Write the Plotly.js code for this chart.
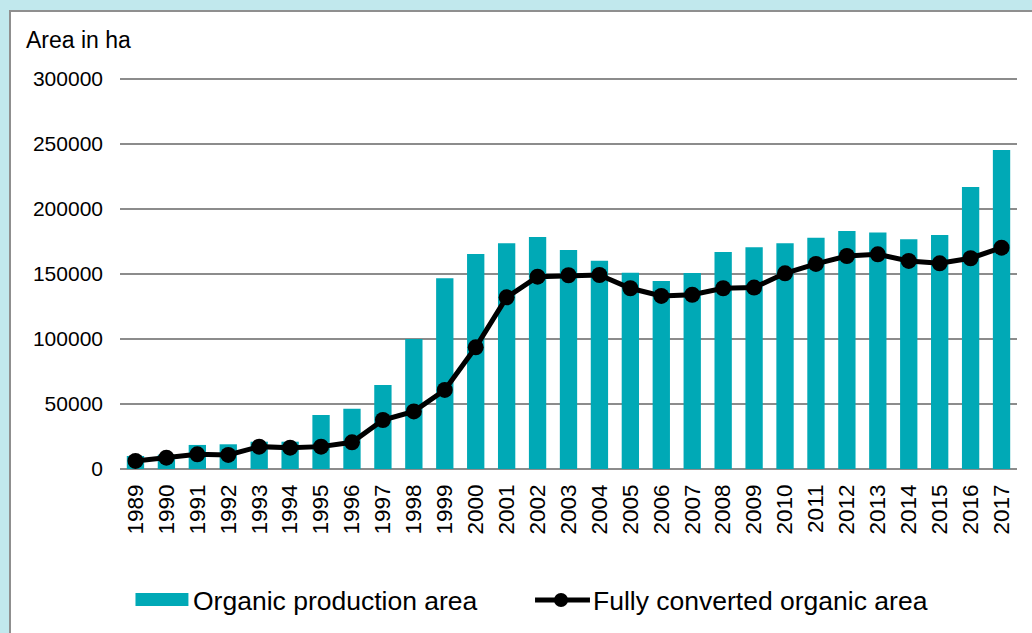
<!DOCTYPE html>
<html>
<head>
<meta charset="utf-8">
<script src="https://cdn.plot.ly/plotly-3.0.1.min.js"></script>
<style>
  html, body { margin: 0; padding: 0; background: #c1e8ed; width: 1032px; height: 633px; overflow: hidden; }
  #frame { position: absolute; left: 9px; top: 10px; width: 1030px; height: 630px;
           border-left: 2px solid #8f8f8f; border-top: 2px solid #8f8f8f; background: #ffffff; }
  #chart { position: absolute; left: 0; top: 0; }
</style>
</head>
<body>
<div id="frame"><div id="chart"></div></div>
<script>
const years = ['1989','1990','1991','1992','1993','1994','1995','1996','1997','1998',
               '1999','2000','2001','2002','2003','2004','2005','2006','2007','2008',
               '2009','2010','2011','2012','2013','2014','2015','2016','2017'];
const organicProductionArea = [10000, 11000, 18500, 19000, 21000, 21000, 41500, 46400, 64600, 100000,
                               146700, 165400, 173600, 178500, 168500, 160200, 151000, 144600, 150800, 166900,
                               170500, 173600, 177900, 183100, 181800, 176700, 180000, 216900, 245400];
const fullyConvertedArea = [6200, 8700, 11300, 10800, 17200, 16400, 17200, 20500, 37700, 44300,
                            60800, 93600, 132000, 147900, 149000, 149200, 139000, 133100, 134000, 139000,
                            139500, 150500, 157700, 163800, 165100, 160000, 158200, 162100, 170200];
const seriesNames = ['Organic production area', 'Fully converted organic area'];
const yTitle = 'Area in ha';
const yTicks = [0, 50000, 100000, 150000, 200000, 250000, 300000];
const yMax = 300000;

const W = 1021, H = 621;
const RANGE_TOP = yMax * 1.01;
const PLOT_BOTTOM = 457, GRID_TOP = 67;
const PHc = (PLOT_BOTTOM - GRID_TOP) * RANGE_TOP / yMax;
const M = { l: 108.5, r: 14.5, t: PLOT_BOTTOM - PHc, b: H - PLOT_BOTTOM };
const PW = W - M.l - M.r, PH = H - M.t - M.b;
const px = x => (x - M.l) / PW;          // inner pixel x -> paper x
const py = y => (H - M.b - y) / PH;      // inner pixel y -> paper y

const FONT = 'Liberation Sans, Arial, sans-serif';
const TEAL = '#00a9b6';
const GRID = '#8c8c8c';

const traces = [
  { type: 'bar', x: years, y: organicProductionArea, name: seriesNames[0],
    marker: { color: TEAL }, showlegend: false },
  { type: 'scatter', mode: 'lines+markers', x: years, y: fullyConvertedArea, name: seriesNames[1],
    line: { color: '#000000', width: 5 }, marker: { color: '#000000', size: 16 }, showlegend: false }
];

const layout = {
  width: W, height: H,
  margin: M,
  paper_bgcolor: '#ffffff', plot_bgcolor: '#ffffff',
  font: { family: FONT, size: 22, color: '#000000' },
  bargap: 0.44,
  xaxis: { type: 'category', range: [-0.5, years.length - 0.5], tickangle: -90, showgrid: false,
           showline: false, zeroline: false, ticks: '', ticklabelstandoff: 10, tickfont: { size: 22.5 } },
  yaxis: { range: [0, RANGE_TOP], tickvals: yTicks,
           tickformat: 'd', showgrid: true, gridcolor: GRID,
           gridwidth: 2, zeroline: true, zerolinecolor: GRID, zerolinewidth: 2, showline: false,
           ticks: '', ticklabelstandoff: 16, tickfont: { size: 21 } },
  annotations: [
    { text: yTitle, xref: 'paper', yref: 'paper', x: px(12), y: py(28), xanchor: 'left', yanchor: 'middle',
      showarrow: false, font: { size: 23 } },
    { text: seriesNames[0], xref: 'paper', yref: 'paper', x: px(180), y: py(588.5), xanchor: 'left', yanchor: 'middle',
      showarrow: false, font: { size: 26.5 } },
    { text: seriesNames[1], xref: 'paper', yref: 'paper', x: px(580), y: py(588.5), xanchor: 'left', yanchor: 'middle',
      showarrow: false, font: { size: 26.5 } }
  ],
  shapes: [
    { type: 'rect', xref: 'paper', yref: 'paper', x0: px(124), x1: px(177), y0: py(581), y1: py(594),
      fillcolor: TEAL, line: { width: 0 } },
    { type: 'line', xref: 'paper', yref: 'paper', x0: px(524), x1: px(579), y0: py(588), y1: py(588),
      line: { color: '#000000', width: 5 } },
    { type: 'circle', xref: 'paper', yref: 'paper', x0: px(543), x1: px(557), y0: py(581), y1: py(595),
      fillcolor: '#000000', line: { width: 0 } }
  ]
};

Plotly.newPlot('chart', traces, layout, { displayModeBar: false, staticPlot: true });
</script>
</body>
</html>
